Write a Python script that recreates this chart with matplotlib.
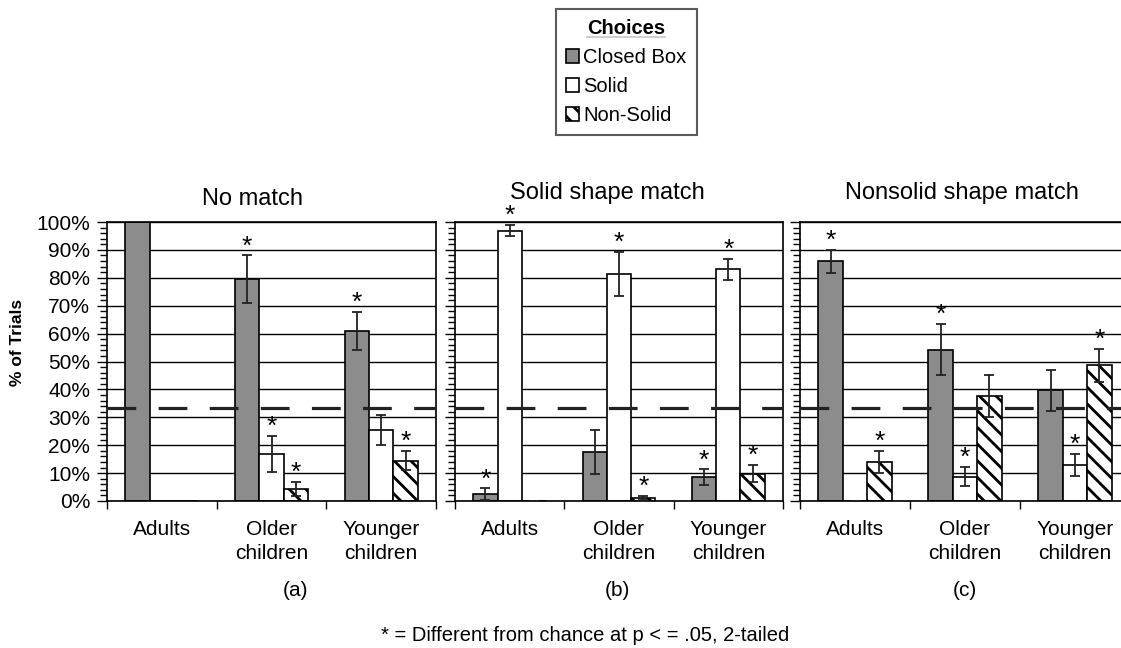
import numpy as np
import matplotlib.pyplot as plt
from matplotlib.patches import Patch
from matplotlib.lines import Line2D
from matplotlib.ticker import MultipleLocator, FixedLocator

plt.rcParams['font.family'] = ['Liberation Sans', 'DejaVu Sans']
plt.rcParams['hatch.linewidth'] = 2.0

groups = ['Adults', 'Older\nchildren', 'Younger\nchildren']
choices = ['Closed Box', 'Solid', 'Non-Solid']
titles = ['No match', 'Solid shape match', 'Nonsolid shape match']
panel_tags = ['(a)', '(b)', '(c)']
yticks = list(range(0, 101, 10))
chance = 33.3
nan = np.nan

# rows: Closed Box, Solid, Non-Solid; columns: Adults, Older, Younger
means_a = [[100.0, 79.5, 61.0], [0.0, 16.9, 25.4], [0.0, 4.3, 14.5]]
err_a = [[nan, 8.5, 6.8], [nan, 6.5, 5.4], [nan, 2.4, 3.3]]
stars_a = [[0, 1, 1], [0, 1, 0], [0, 1, 1]]

means_b = [[2.5, 17.5, 8.5], [96.9, 81.4, 83.0], [0.0, 1.0, 9.8]]
err_b = [[2.0, 8.0, 2.8], [2.0, 7.8, 3.8], [0.0, 0.8, 3.0]]
stars_b = [[1, 0, 1], [1, 1, 1], [0, 1, 1]]

means_c = [[85.9, 54.2, 39.7], [0.0, 8.7, 12.8], [13.9, 37.7, 48.6]]
err_c = [[4.1, 9.2, 7.3], [0.0, 3.4, 3.9], [3.9, 7.5, 6.0]]
stars_c = [[1, 1, 0], [0, 1, 1], [1, 0, 1]]

panels = [(means_a, err_a, stars_a), (means_b, err_b, stars_b), (means_c, err_c, stars_c)]

gray = '#8c8c8c'
faces = [gray, 'white', 'white']
hatches = [None, None, '\\\\']
width = 0.222
offsets = [-width, 0.0, width]

W, H = 1121, 648
fig = plt.figure(figsize=(W / 100, H / 100), dpi=100)

def px(x0, y0, x1, y1):
    return [x0 / W, 1 - y1 / H, (x1 - x0) / W, (y1 - y0) / H]

boxes = [px(107, 222, 436, 501), px(455, 222, 783, 501), px(800, 222, 1130, 501)]
title_pos = [(252, 205), (607, 199), (962, 199)]
tag_pos = [(295, 591), (617, 591), (965, 591)]

x = np.arange(len(groups))
for k, (means, errs, stars) in enumerate(panels):
    ax = fig.add_axes(boxes[k])
    for i in range(3):
        xi = x + offsets[i]
        ax.bar(xi, means[i], width, color=faces[i], edgecolor='black',
               linewidth=1.2, hatch=hatches[i], zorder=2)
        ax.errorbar(xi, means[i], yerr=errs[i], fmt='none', ecolor='#222222',
                    elinewidth=1.3, capsize=3.3, capthick=1.3, zorder=3)
        for j in range(3):
            if stars[i][j]:
                top = means[i][j] + (0 if np.isnan(errs[i][j]) else errs[i][j])
                ax.annotate('*', (xi[j], top), xytext=(0, 1.5),
                            textcoords='offset points', ha='center',
                            va='baseline', fontsize=19, zorder=4)
    ax.plot([-0.5, 2.5], [chance, chance], color='#222222', lw=2.3,
            linestyle=(0, (9.0, 7.0)), zorder=5, clip_on=False)

    ax.set_xlim(-0.5, 2.5)
    ax.set_ylim(0, 100)
    ax.set_yticks(yticks)
    ax.yaxis.set_minor_locator(MultipleLocator(2))
    ax.yaxis.grid(True, which='major', color='black', lw=1.0, zorder=0)
    ax.set_axisbelow(True)
    ax.tick_params(axis='y', which='major', direction='out', length=7,
                   width=1.0, labelsize=15, pad=5)
    ax.tick_params(axis='y', which='minor', direction='out', length=5, width=1.0)
    if k == 0:
        ax.set_yticklabels([f'{v}%' for v in yticks])
    else:
        ax.tick_params(axis='y', labelleft=False)

    ax.xaxis.set_major_locator(FixedLocator([-0.5, 0.5, 1.5, 2.5]))
    ax.tick_params(axis='x', which='major', direction='out', length=6,
                   width=1.0, labelbottom=False)
    ax.set_xticks(x, groups, minor=True)
    ax.tick_params(axis='x', which='minor', length=0, pad=14, labelsize=15)
    for lab in ax.get_xticklabels(minor=True):
        lab.set_linespacing(1.3)
    for sp in ax.spines.values():
        sp.set_linewidth(1.2)

    fig.text(title_pos[k][0] / W, 1 - title_pos[k][1] / H, titles[k],
             fontsize=17, ha='center', va='baseline')
    fig.text(tag_pos[k][0] / W, 1 - tag_pos[k][1] / H, panel_tags[k],
             fontsize=15, ha='center', va='center')

fig.text(18 / W, 1 - 342 / H, '% of Trials', rotation=90, fontsize=12.5,
         fontweight='bold', ha='center', va='center')
fig.text(585 / W, 1 - 641 / H, '* = Different from chance at p < = .05, 2-tailed',
         fontsize=14.5, ha='center', va='baseline')

handles = [Patch(facecolor=faces[i], edgecolor='black', hatch=hatches[i], linewidth=1.2)
           for i in range(3)]
leg = fig.legend(handles, choices, loc='upper left',
                 bbox_to_anchor=(556 / W, 1 - 9 / H), borderaxespad=0,
                 fontsize=14.5, title='Choices', frameon=True, fancybox=False,
                 handlelength=0.65, handleheight=0.65, handletextpad=0.2,
                 labelspacing=0.5, borderpad=0.5,
                 title_fontproperties={'weight': 'bold', 'size': 14.5})
leg.get_frame().set_edgecolor('#333333')
leg.get_frame().set_linewidth(1.5)

# underline the legend title
fig.canvas.draw()
bb = leg.get_title().get_window_extent()
fig.add_artist(Line2D([bb.x0, bb.x1], [bb.y0 + 1, bb.y0 + 1], transform=None,
                      color='black', lw=1.3))

fig.savefig('out.png', dpi=100)
